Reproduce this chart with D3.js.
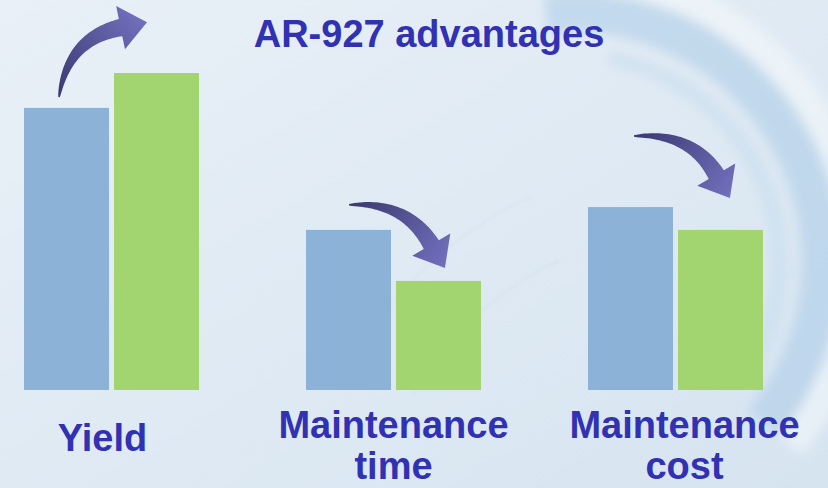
<!DOCTYPE html>
<html>
<head>
<meta charset="utf-8">
<script src="https://cdn.jsdelivr.net/npm/d3@7"></script>
<style>
  html, body { margin: 0; padding: 0; background: #e2ecf5; }
  svg { display: block; }
</style>
</head>
<body>
<div id="chart"></div>
<script>
// chart data
var categories = ["Yield", "Maintenance time", "Maintenance cost"];
var labelLines = [["Yield"], ["Maintenance", "time"], ["Maintenance", "cost"]];
var series = ["before", "after"];
var beforeValues = [89, 50.5, 57.7];
var afterValues = [100, 34.4, 50.5];

// arrows: [position inside the group (0..1), value]
var arrowFrom = [[0.2, 92.4], [0.246, 58.4], [0.263, 80.1]];
var arrowTo = [[0.703, 116], [0.794, 38.5], [0.811, 60.6]];
var arrowTurn = [[-81.5, -11.5], [-4, 59.6], [-4, 59.6]];

var title = "AR-927 advantages";
var colors = {before: "#8cb2d8", after: "#a2d56f"};
var textColor = "#3131b3";
var labelNudge = [-9, 0, 9]; // labels sit a little off the group centre

var width = 828, height = 488;

var svg = d3.select("#chart").append("svg")
  .attr("width", width)
  .attr("height", height);

var defs = svg.append("defs");

var bg = defs.append("linearGradient").attr("id", "bg")
  .attr("x1", "0").attr("y1", "0").attr("x2", "1").attr("y2", "1");
bg.append("stop").attr("offset", "0%").attr("stop-color", "#e9f0f7");
bg.append("stop").attr("offset", "100%").attr("stop-color", "#d6e4f0");

defs.append("filter").attr("id", "blur")
  .attr("x", "-20%").attr("y", "-20%").attr("width", "140%").attr("height", "140%")
  .append("feGaussianBlur").attr("stdDeviation", 6);
defs.append("filter").attr("id", "softblur")
  .append("feGaussianBlur").attr("stdDeviation", 1.5);

svg.append("rect")
  .attr("width", width)
  .attr("height", height)
  .attr("fill", "url(#bg)");

// background swirl
var swirl = svg.append("g")
  .attr("transform", "translate(572,262)")
  .attr("filter", "url(#blur)");
swirl.append("path")
  .attr("d", d3.arc()({innerRadius: 272, outerRadius: 300, startAngle: toRadians(-8), endAngle: toRadians(130)}))
  .attr("fill", "#f3f8fc").attr("opacity", 0.6);
swirl.append("path")
  .attr("d", d3.arc()({innerRadius: 230, outerRadius: 270, startAngle: toRadians(-6), endAngle: toRadians(130)}))
  .attr("fill", "#a9cbe7").attr("opacity", 0.55);
swirl.append("path")
  .attr("d", d3.arc()({innerRadius: 200, outerRadius: 214, startAngle: toRadians(10), endAngle: toRadians(120)}))
  .attr("fill", "#c2d9ed").attr("opacity", 0.5);

var faint = svg.append("g").attr("transform", "translate(700,560)")
  .attr("filter", "url(#softblur)");
[330, 400].forEach(function(r) {
  faint.append("path")
    .attr("d", d3.arc()({innerRadius: r, outerRadius: r + 2, startAngle: toRadians(-60), endAngle: toRadians(-25)}))
    .attr("fill", "#c9dbea").attr("opacity", 0.35);
});

// scales
var x0 = d3.scaleBand()
  .domain(categories)
  .range([24, 763])
  .paddingInner(0.3794)
  .paddingOuter(0);

var x1 = d3.scaleBand()
  .domain(series)
  .range([0, x0.bandwidth()])
  .paddingInner(0.0556);

var y = d3.scaleLinear()
  .domain([0, 100])
  .range([390, 73]);

var rows = categories.map(function(c, i) {
  return {cat: c, i: i, lines: labelLines[i], values: {before: beforeValues[i], after: afterValues[i]}};
});

// bars
var groups = svg.append("g").selectAll("g")
  .data(rows)
  .enter().append("g")
  .attr("transform", function(d) { return "translate(" + x0(d.cat) + ",0)"; });

groups.selectAll("rect")
  .data(function(d) { return series.map(function(s) { return {key: s, value: d.values[s]}; }); })
  .enter().append("rect")
  .attr("x", function(d) { return x1(d.key); })
  .attr("y", function(d) { return y(d.value); })
  .attr("width", x1.bandwidth())
  .attr("height", function(d) { return y(0) - y(d.value); })
  .attr("fill", function(d) { return colors[d.key]; });

// arrows
function toRadians(angle) {
  return angle * (Math.PI / 180);
}

function arrowShape(tail, tip, a0, a1) {
  var headLen = 27, headHalf = 22;
  var e = [Math.cos(toRadians(a1)), Math.sin(toRadians(a1))];
  var s = [Math.cos(toRadians(a0)), Math.sin(toRadians(a0))];
  var base = [tip[0] - headLen * e[0], tip[1] - headLen * e[1]];
  // control point = crossing of start and end directions
  var det = s[0] * (-e[1]) - s[1] * (-e[0]);
  var dx = base[0] - tail[0], dy = base[1] - tail[1];
  var u = (dx * (-e[1]) - dy * (-e[0])) / det;
  var c = [tail[0] + u * s[0], tail[1] + u * s[1]];
  var left = [], right = [], n = 40;
  for (var i = 0; i <= n; i++) {
    var t = i / n;
    var px = (1 - t) * (1 - t) * tail[0] + 2 * (1 - t) * t * c[0] + t * t * base[0];
    var py = (1 - t) * (1 - t) * tail[1] + 2 * (1 - t) * t * c[1] + t * t * base[1];
    var tx = 2 * (1 - t) * (c[0] - tail[0]) + 2 * t * (base[0] - c[0]);
    var ty = 2 * (1 - t) * (c[1] - tail[1]) + 2 * t * (base[1] - c[1]);
    var len = Math.sqrt(tx * tx + ty * ty);
    var nx = -ty / len, ny = tx / len;
    var w = (1.5 + 16 * Math.pow(t, 0.75)) / 2;
    left.push([px + nx * w, py + ny * w]);
    right.push([px - nx * w, py - ny * w]);
  }
  var en = [-e[1], e[0]];
  var pts = left.concat([
    [base[0] + en[0] * headHalf, base[1] + en[1] * headHalf],
    tip,
    [base[0] - en[0] * headHalf, base[1] - en[1] * headHalf]
  ]).concat(right.reverse());
  return d3.line()(pts) + "Z";
}

var arrowLayer = svg.append("g");
rows.forEach(function(d, i) {
  var tail = [x0(d.cat) + arrowFrom[i][0] * x0.bandwidth(), y(arrowFrom[i][1])];
  var tip = [x0(d.cat) + arrowTo[i][0] * x0.bandwidth(), y(arrowTo[i][1])];
  var g = defs.append("linearGradient").attr("id", "arrow" + i)
    .attr("gradientUnits", "userSpaceOnUse")
    .attr("x1", tail[0]).attr("y1", tail[1])
    .attr("x2", tip[0]).attr("y2", tip[1]);
  g.append("stop").attr("offset", "0%").attr("stop-color", "#3a3970");
  g.append("stop").attr("offset", "100%").attr("stop-color", "#7270bd");
  arrowLayer.append("path")
    .attr("d", arrowShape(tail, tip, arrowTurn[i][0], arrowTurn[i][1]))
    .attr("fill", "url(#arrow" + i + ")");
});

// category labels
function labelX(d) {
  return x0(d.cat) + x0.bandwidth() / 2 + labelNudge[d.i];
}

var labels = svg.append("g")
  .style("font-family", "'Liberation Sans', Arial, sans-serif")
  .style("font-weight", "bold")
  .style("font-size", "38px")
  .attr("fill", textColor)
  .attr("text-anchor", "middle");

labels.selectAll("text")
  .data(rows)
  .enter().append("text")
  .attr("x", labelX)
  .attr("y", function(d) { return d.lines.length === 1 ? 451 : 438; })
  .each(function(d) {
    var t = d3.select(this);
    d.lines.forEach(function(line, k) {
      t.append("tspan")
        .attr("x", labelX(d))
        .attr("dy", k === 0 ? 0 : 41)
        .text(line);
    });
  });

// title
svg.append("text")
  .attr("x", 429)
  .attr("y", 47)
  .attr("text-anchor", "middle")
  .style("font-family", "'Liberation Sans', Arial, sans-serif")
  .style("font-weight", "bold")
  .style("font-size", "38px")
  .attr("fill", textColor)
  .text(title);
</script>
</body>
</html>
